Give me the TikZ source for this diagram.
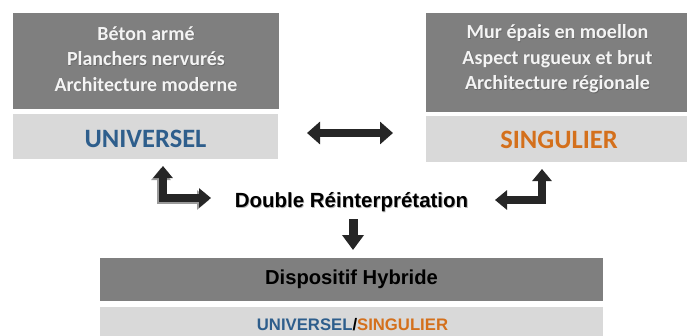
\documentclass[tikz,border=0pt]{standalone}
\usepackage{fontspec}
\setmainfont{Carlito}
\newfontfamily\arialb{Liberation Sans}[BoldFont={Liberation Sans Bold}]
\usetikzlibrary{arrows.meta}
\definecolor{dk}{HTML}{7F7F7F}
\definecolor{lt}{HTML}{D9D9D9}
\definecolor{ublue}{HTML}{2E5E8C}
\definecolor{sorange}{HTML}{D4701C}
\definecolor{arr}{HTML}{262626}
\definecolor{shd}{HTML}{9A9A9A}
\definecolor{tshd}{HTML}{B5B5B5}
\definecolor{wtxt}{HTML}{F4F4F4}
\tikzset{
  darkbox/.style={fill=dk, draw=none, inner sep=0pt, align=center},
  lightbox/.style={fill=lt, draw=none, inner sep=0pt, align=center},
  featuretext/.style={text=wtxt, font=\fontsize{20}{25.5}\selectfont\bfseries, align=center, inner sep=0pt},
  bigword/.style={font=\fontsize{26.5}{30}\selectfont\bfseries, inner sep=0pt},
}
\begin{document}
\begin{tikzpicture}[x=1pt,y=-1pt]
\useasboundingbox (0,0) rectangle (687,335);
\fill[white] (0,0) rectangle (687,335);
% top boxes
\node[darkbox, minimum width=266pt, minimum height=96pt] (ldark) at (146,61) {};
\node[featuretext, text=dk!80!black] at (146.6,59.6) {Béton armé\\Planchers nervurés\\Architecture moderne};
\node[featuretext] (ltext) at (146,59) {Béton armé\\Planchers nervurés\\Architecture moderne};
\node[lightbox, minimum width=265pt, minimum height=45pt] (llight) at (145.5,136.5) {};
\node[bigword, text=ublue] (univ) at (145.5,139) {UNIVERSEL};
\node[darkbox, minimum width=261pt, minimum height=99pt] (rdark) at (556.5,62.5) {};
\node[featuretext, text=dk!80!black] at (558.1,59.6) {Mur épais en moellon\\Aspect rugueux et brut\\Architecture régionale};
\node[featuretext] (rtext) at (557.5,59) {Mur épais en moellon\\Aspect rugueux et brut\\Architecture régionale};
\node[lightbox, minimum width=261pt, minimum height=46pt] (rlight) at (556.5,139) {};
\node[bigword, text=sorange] (sing) at (559,140) {SINGULIER};
% middle text
\node[font=\arialb\fontsize{20.5}{24}\selectfont\bfseries, inner sep=0pt, text=tshd] at (352.3,202.8) {Double Réinterprétation};
\node[font=\arialb\fontsize{20.5}{24}\selectfont\bfseries, inner sep=0pt] (dr) at (351.5,202) {Double Réinterprétation};
% bottom boxes
\node[darkbox, minimum width=503pt, minimum height=43pt] (bdark) at (351.5,279.5) {};
\node[font=\arialb\fontsize{20.2}{24}\selectfont\bfseries, inner sep=0pt] (hyb) at (351.5,279) {Dispositif Hybride};
\node[lightbox, minimum width=503pt, minimum height=30pt] (blight) at (351.5,322) {};
\node[font=\arialb\fontsize{16.7}{20}\selectfont\bfseries, inner sep=0pt] (us) at (352.5,324.5) {\textcolor{ublue}{UNIVERSEL}/\textcolor{sorange}{SINGULIER}};
% double arrow
\coordinate (da1) at (307,133);
\coordinate (da2) at (393,133);
\draw[draw=arr, line width=8pt, {Triangle[width=22pt,length=13pt]}-{Triangle[width=22pt,length=13pt]}] (da1) -- (da2);
% left elbow arrow
\coordinate (le1) at (163,166);
\coordinate (lec) at (163,198);
\coordinate (le2) at (211,198);
\draw[shd, line width=7.5pt, {Triangle[width=19pt,length=12pt]}-{Triangle[width=19pt,length=12pt]}] ([shift={(-2,2)}]le1) -- ([shift={(-2,2)}]lec) -- ([shift={(-2,2)}]le2);
\draw[arr, line width=7.5pt, {Triangle[width=19pt,length=12pt]}-{Triangle[width=19pt,length=12pt]}] (le1) -- (lec) -- (le2);
% right elbow arrow
\coordinate (re1) at (542,169);
\coordinate (rec) at (542,200);
\coordinate (re2) at (495,200);
\draw[arr, line width=7.5pt, {Triangle[width=19pt,length=12pt]}-{Triangle[width=19pt,length=12pt]}] (re1) -- (rec) -- (re2);
% down arrow
\coordinate (d1) at (353,219);
\coordinate (d2) at (353,250);
\draw[arr, line width=9pt, -{Triangle[width=21pt,length=15pt]}] (d1) -- (d2);
\end{tikzpicture}
\end{document}
